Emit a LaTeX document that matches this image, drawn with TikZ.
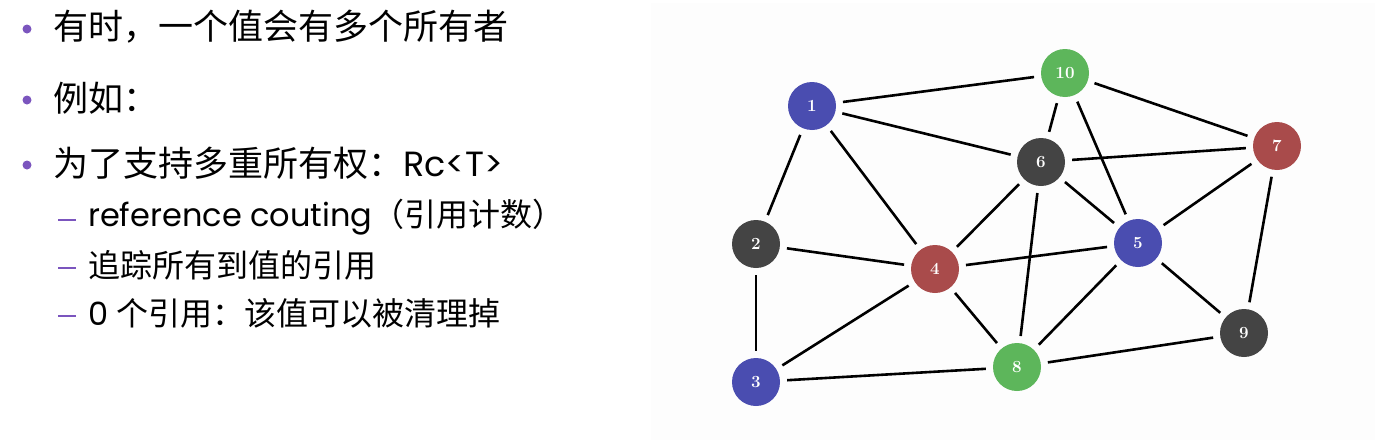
\documentclass[tikz,border=0pt]{standalone}
\usepackage{fontspec}
\setsansfont{Poppins}
\newfontfamily\cjk{Noto Sans CJK SC}
\usepackage{tikz}
\usetikzlibrary{positioning}

\definecolor{vblue}{HTML}{4A4DB0}
\definecolor{vgreen}{HTML}{5DB65B}
\definecolor{vred}{HTML}{A94B4B}
\definecolor{vgray}{HTML}{444444}
\definecolor{bulletpurple}{HTML}{7B55BE}

\begin{document}
\begin{tikzpicture}[x=1pt, y=-1pt,
        vertex/.style={circle, minimum size=48pt, inner sep=0pt, text=white,
            font=\bfseries\fontsize{17}{17}\selectfont},
        link/.style={line width=2.6pt, shorten <=7pt, shorten >=7pt},
        item/.style={anchor=west, inner sep=0pt, font=\sffamily\fontsize{35}{35}\selectfont},
        subitem/.style={anchor=west, inner sep=0pt, font=\sffamily\fontsize{32}{32}\selectfont}]
                \useasboundingbox (0,0) rectangle (1375,442);
                \fill[black!0.8] (651,3) rectangle (1375,440);

                % bullet list
                \foreach \y in {29, 100, 165}
                    \fill[bulletpurple] (27,\y) circle (4.5pt);
                \foreach \y in {220, 268, 316}
                    \draw[bulletpurple, line width=2.8pt] (58,\y) -- (76,\y);
                \node[item] (t1) at (53,27) {\cjk 有时，一个值会有多个所有者};
                \node[item] (t2) at (53,98) {\cjk 例如：};
                \node[item] (t3) at (53,163) {{\cjk 为了支持多重所有权：}Rc<T>};
                \node[subitem] (s1) at (88,217) {reference couting{\cjk（引用计数）}};
                \node[subitem] (s2) at (88,265) {\cjk 追踪所有到值的引用};
                \node[subitem] (s3) at (88,313) {0 {\cjk 个引用：该值可以被清理掉}};

                % graph
                \node[vertex, fill=vblue] (n1) at (812,106) {1};
                \node[vertex, fill=vgray] (n2) at (756,244) {2};
                \node[vertex, fill=vblue] (n3) at (756,382) {3};
                \node[vertex, fill=vred] (n4) at (935,269) {4};
                \node[vertex, fill=vblue] (n5) at (1138,243) {5};
                \node[vertex, fill=vgray] (n6) at (1041,162) {6};
                \node[vertex, fill=vred] (n7) at (1277,146) {7};
                \node[vertex, fill=vgreen] (n8) at (1017,367) {8};
                \node[vertex, fill=vgray] (n9) at (1244,333) {9};
                \node[vertex, fill=vgreen] (n10) at (1065,73) {10};

                \foreach \a/\b in {1/10, 1/6, 1/2, 1/4, 10/6, 10/5, 10/7, 6/7, 6/4, 6/5, 6/8,
                        7/5, 7/9, 2/4, 2/3, 4/5, 4/3, 4/8, 5/8, 5/9, 9/8, 3/8}
                    \draw[link] (n\a) -- (n\b);
            \end{tikzpicture}
\end{document}
